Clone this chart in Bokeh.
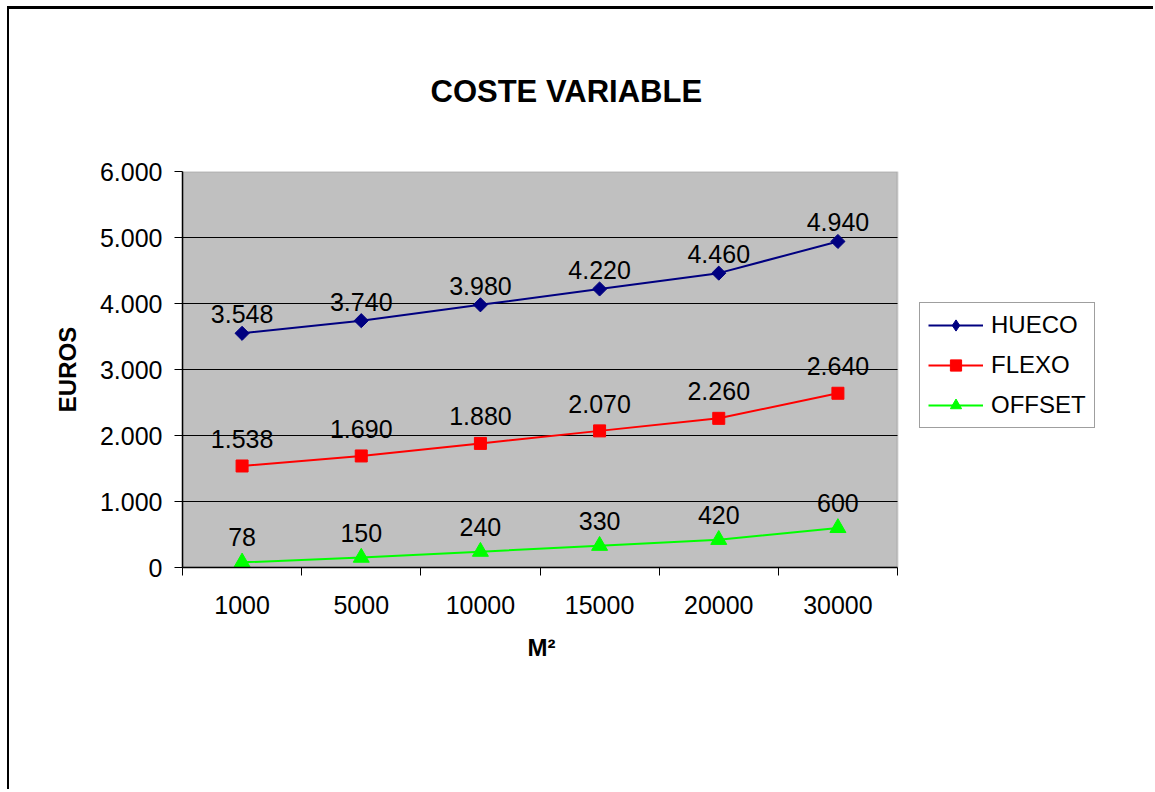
import numpy as np
from bokeh.plotting import figure
from bokeh.models import (FixedTicker, CustomJSTickFormatter, Legend, LegendItem,
                          BoxAnnotation, Title)
from bokeh.embed import file_html
from bokeh.resources import INLINE
from bokeh.core.properties import value

# ---- data ----
categories = ["1000", "5000", "10000", "15000", "20000", "30000"]
hueco = [3548, 3740, 3980, 4220, 4460, 4940]
flexo = [1538, 1690, 1880, 2070, 2260, 2640]
offset = [78, 150, 240, 330, 420, 600]
y_ticks = [0, 1000, 2000, 3000, 4000, 5000, 6000]
series_names = ["HUECO", "FLEXO", "OFFSET"]

FONT = "Liberation Sans"
W, H = 1146, 783

# layout (pixels): grey plot area 715 px wide inside a frame that also holds the legend
AREA_W = 715
FRAME_W = 928
n_cat = len(categories)
x_end = n_cat * FRAME_W / AREA_W

def fmt(v):
    return f"{v:,}".replace(",", ".")

xs = [i + 0.5 for i in range(n_cat)]

p = figure(width=W, height=H, output_backend="svg", toolbar_location=None,
           x_range=(0, x_end), y_range=(0, y_ticks[-1]),
           min_border_left=173, min_border_top=161,
           min_border_right=W - 173 - FRAME_W, min_border_bottom=225)

# outer chart border (top and left visible), drawn on the host element
p.styles = {"margin-left": "7px", "margin-top": "6px",
            "border-left": "2px solid black", "border-top": "3px solid black"}

p.background_fill_color = "white"
p.border_fill_color = "white"
p.outline_line_color = None

# grey plot area with grey border
p.add_layout(BoxAnnotation(left=0, right=n_cat, bottom=0, top=y_ticks[-1],
                           fill_color="#C0C0C0", fill_alpha=1,
                           line_color="#808080", line_width=2, level="underlay"))

# title
p.title.text = "COSTE VARIABLE"
p.title.align = "left"
p.title.offset = 248
p.title.standoff = 125
p.title.text_font = FONT
p.title.text_font_size = "31px"
p.title.text_font_style = "bold"
p.title.text_color = "black"

# x axis
xa = p.xaxis[0]
xa.bounds = (0, n_cat)
xa.ticker = FixedTicker(ticks=xs, minor_ticks=list(range(n_cat + 1)))
xa.formatter = CustomJSTickFormatter(args=dict(cats=categories),
                                     code="const c = cats[Math.round(tick - 0.5)]; return c === undefined ? '' : c;")
xa.major_tick_out = 0
xa.major_tick_in = 0
xa.minor_tick_out = 8
xa.minor_tick_in = 0
xa.minor_tick_line_color = "black"
xa.axis_line_color = "black"
xa.axis_line_width = 1.5
xa.major_label_text_font = FONT
xa.major_label_text_font_size = "25px"
xa.major_label_text_color = "black"
xa.major_label_standoff = 20

# x axis title, centred under the grey plot area
p.add_layout(Title(text="M²", align="left", offset=345, standoff=30,
                   text_font=FONT, text_font_size="24px", text_font_style="bold",
                   text_color="black"), "below")

# y axis
ya = p.yaxis[0]
ya.ticker = FixedTicker(ticks=y_ticks, minor_ticks=[])
ya.formatter = CustomJSTickFormatter(
    code="const s = Math.round(tick).toString(); return s.replace(/\\B(?=(\\d{3})+(?!\\d))/g, '.');")
ya.major_tick_out = 8
ya.major_tick_in = 0
ya.major_tick_line_color = "black"
ya.axis_line_color = "black"
ya.axis_line_width = 1.5
ya.major_label_text_font = FONT
ya.major_label_text_font_size = "25px"
ya.major_label_text_color = "black"
ya.major_label_standoff = 12
ya.axis_label = "EUROS"
ya.axis_label_text_font = FONT
ya.axis_label_text_font_size = "24px"
ya.axis_label_text_font_style = "bold"
ya.axis_label_text_color = "black"
ya.axis_label_standoff = 16

p.xgrid.grid_line_color = None
p.ygrid.grid_line_color = None

# horizontal gridlines limited to the grey plot area
inner = y_ticks[1:-1]
p.segment(x0=[0] * len(inner), x1=[n_cat] * len(inner), y0=inner, y1=inner,
          line_color="black", line_width=1)

# series: (values, colour, plot marker, size, angle, legend marker, legend size, label offset)
styles = [
    (hueco, "#000080", "square", 10, np.pi / 4, "diamond", 17, 19),
    (flexo, "#FF0000", "square", 12, 0.0, "square", 12, 27),
    (offset, "#00FF00", "triangle", 16, 0.0, "triangle", 16, 25),
]
items = []
for name, (vals, col, mk, sz, ang, lmk, lsz, lab_off) in zip(series_names, styles):
    ln = p.line(xs, vals, line_color=col, line_width=2)
    p.scatter(xs, vals, marker=mk, size=sz, angle=ang,
              fill_color=col, line_color=col)
    # legend-only marker renderer (not shown in the plot itself)
    leg_sc = p.scatter(xs, vals, marker=lmk, size=lsz, fill_color=col,
                       line_color=col, visible=False)
    p.text(xs, vals, text=[fmt(v) for v in vals], text_align="center",
           text_baseline="middle", y_offset=-lab_off,
           text_font=value(FONT), text_font_size="25px", text_color="black")
    items.append(LegendItem(label=name, renderers=[ln, leg_sc]))

legend = Legend(items=items, location=(737, 139), padding=8,
                glyph_width=55, glyph_height=28, label_height=28,
                label_standoff=8, spacing=12,
                label_text_font=FONT, label_text_font_size="24px",
                label_text_color="black",
                border_line_color="#404040", border_line_width=1,
                background_fill_color="white", background_fill_alpha=1,
                inactive_fill_alpha=0)
p.add_layout(legend)

open("out.html", "w").write(file_html(p, INLINE))
